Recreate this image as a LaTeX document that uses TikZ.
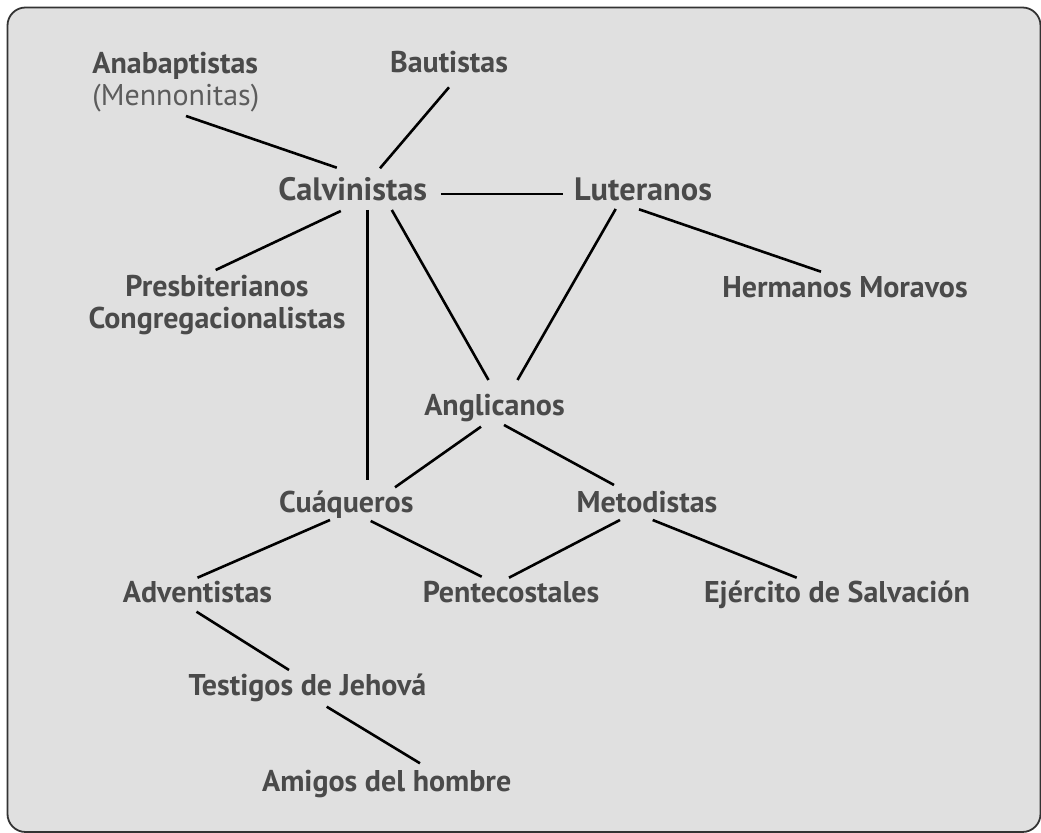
\documentclass[tikz,border=0pt]{standalone}
\usepackage{fontspec}
\setmainfont{PT Sans}
\usetikzlibrary{calc}

\definecolor{fondo}{HTML}{E0E0E0}
\definecolor{texto}{HTML}{4A4A4A}
\definecolor{borde}{HTML}{333333}

\tikzset{
  grupo/.style={inner sep=0pt, anchor=base, text=texto, font=\fontsize{15}{16}\selectfont\bfseries},
  mayor/.style={grupo, font=\fontsize{16.2}{18}\selectfont\bfseries},
  enlace/.style={line width=1.3pt, black}
}

\begin{document}
\begin{tikzpicture}[x=0.5pt, y=-0.5pt]
\useasboundingbox (0,0) rectangle (1041,833);
\draw[fill=fondo, draw=borde, line width=0.9pt, rounded corners=9pt] (7.5,7.5) rectangle (1040.5,832);

% iglesias
\node[grupo, anchor=north west, align=left] (anab) at (92,52) {Anabaptistas\\{\mdseries\color{texto!90}(Mennonitas)}};
\node[grupo] (baut) at (449,73) {Bautistas};
\node[mayor] (calv) at (352.8,201) {Calvinistas};
\node[mayor] (lut) at (643,201) {Luteranos};
\node[grupo, anchor=north, align=center] (presb) at (217,275) {Presbiterianos\\Congregacionalistas};
\node[grupo] (herm) at (845,297.3) {Hermanos Moravos};
\node[grupo] (angl) at (494.5,415.7) {Anglicanos};
\node[grupo] (cuaq) at (346.3,512.7) {Cuáqueros};
\node[grupo] (metod) at (647,512.7) {Metodistas};
\node[grupo] (advent) at (197.5,602.3) {Adventistas};
\node[grupo] (pente) at (511,602.3) {Pentecostales};
\node[grupo] (ejerc) at (837,602.7) {Ejército de Salvación};
\node[grupo] (test) at (307.5,695.7) {Testigos de Jehová};
\node[grupo] (amigos) at (386.7,791.7) {Amigos del hombre};

% enlaces
\draw[enlace] ($(anab.north west)+(94,64)$) -- ($(calv.base)+(-16,-33.3)$);
\draw[enlace] ($(baut.base)+(0,14.3)$) -- ($(calv.base)+(27.2,-32.7)$);
\draw[enlace] ($(calv.base)+(88,-7)$) -- ($(lut.base)+(-80.3,-7)$);
\draw[enlace] ($(calv.base)+(-12,10)$) -- ($(presb.north)+(-1.3,-5)$);
\draw[enlace] ($(calv.base)+(14.5,9)$) -- ($(cuaq.base)+(21,-32.7)$);
\draw[enlace] ($(calv.base)+(39,9)$) -- ($(angl.base)+(-6,-35.7)$);
\draw[enlace] ($(lut.base)+(-27.3,8)$) -- ($(angl.base)+(23,-35.7)$);
\draw[enlace] ($(lut.base)+(-4,8.3)$) -- ($(herm.base)+(-24,-25.6)$);
\draw[enlace] ($(angl.base)+(-13.5,11)$) -- ($(cuaq.base)+(48.7,-25.4)$);
\draw[enlace] ($(angl.base)+(9.5,9.3)$) -- ($(metod.base)+(-33,-27.7)$);
\draw[enlace] ($(cuaq.base)+(-16.3,7.3)$) -- ($(advent.base)+(0,-24.6)$);
\draw[enlace] ($(cuaq.base)+(24.4,8.3)$) -- ($(pente.base)+(-29.3,-25.6)$);
\draw[enlace] ($(metod.base)+(-27,7.3)$) -- ($(pente.base)+(-2,-24.6)$);
\draw[enlace] ($(metod.base)+(5.7,7.3)$) -- ($(ejerc.base)+(-40.3,-25)$);
\draw[enlace] ($(advent.base)+(-1,9.4)$) -- ($(test.base)+(-18.5,-25.7)$);
\draw[enlace] ($(test.base)+(19.2,11)$) -- ($(amigos.base)+(33.3,-28.4)$);
\end{tikzpicture}
\end{document}
